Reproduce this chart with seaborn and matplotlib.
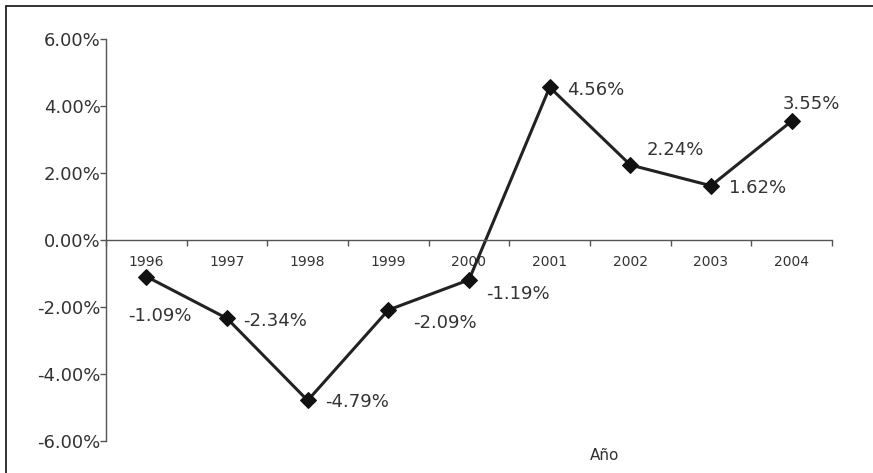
import pandas as pd
import numpy as np
import matplotlib
matplotlib.use("Agg")
import matplotlib.pyplot as plt
import seaborn as sns
from matplotlib.ticker import FuncFormatter

# data
years = ['1996', '1997', '1998', '1999', '2000', '2001', '2002', '2003', '2004']
values = [-1.09, -2.34, -4.79, -2.09, -1.19, 4.56, 2.24, 1.62, 3.55]
labels = ['-1.09%', '-2.34%', '-4.79%', '-2.09%', '-1.19%', '4.56%', '2.24%', '1.62%', '3.55%']

data = pd.DataFrame({'pos': np.arange(len(years)), 'value': values})

sns.set_style('white')
plt.rcParams['font.family'] = ['DejaVu Sans']

fig = plt.figure(figsize=(8.73, 4.73), dpi=100)
ax = fig.add_axes([106/873, 1 - 441/473, (832 - 106)/873, (441 - 39)/473])

sns.lineplot(data=data, x='pos', y='value', ax=ax, color='#222222', linewidth=2.2,
             marker='D', markersize=8, markerfacecolor='#111111', markeredgecolor='#111111')

ax.set_xlim(-0.5, len(years) - 0.5)
ax.set_ylim(-6, 6)
ax.set_yticks([-6, -4, -2, 0, 2, 4, 6])
ax.yaxis.set_major_formatter(FuncFormatter(lambda v, p: f'{v:.2f}%'))

# category axis: ticks between categories, names at centres
ax.set_xticks(np.arange(len(years) + 1) - 0.5)
ax.set_xticklabels([])
ax.set_xticks(np.arange(len(years)), minor=True)
ax.set_xticklabels(years, minor=True)
ax.spines['bottom'].set_position(('data', 0))
ax.spines['top'].set_visible(False)
ax.spines['right'].set_visible(False)
for s in ['left', 'bottom']:
    ax.spines[s].set_color('#555555')
    ax.spines[s].set_linewidth(1)

ax.tick_params(axis='y', which='major', direction='out', length=4, width=1, color='#555555',
               labelsize=13, labelcolor='#333333', pad=0, left=True)
ax.tick_params(axis='x', which='major', direction='out', length=4, width=1, color='#555555', bottom=True)
ax.tick_params(axis='x', which='minor', length=0, labelsize=10, labelcolor='#333333', pad=11)

ax.set_xlabel('Año', fontsize=11, color='#333333')
ax.xaxis.set_label_coords((605 - 106)/(832 - 106), 1 - (448 - 39)/(441 - 39))
ax.set_ylabel('')

# data labels, offsets in pixels
offsets = [(14, -39, 'center'), (16, -3, 'left'), (17, -2, 'left'), (25, -13, 'left'),
           (17, -14, 'left'), (17, -3, 'left'), (16, 15, 'left'), (18, -2, 'left'), (20, 17, 'center')]
for i, (v, t) in enumerate(zip(values, labels)):
    dx, dy, ha = offsets[i]
    ax.annotate(t, xy=(i, v), xytext=(dx, dy), textcoords='offset pixels',
                ha=ha, va='center', fontsize=13, color='#333333')

# outer frame (only top and left edges show)
fig.patches.append(plt.Rectangle((6/873, -0.1), 1.2, 1 - 6/473 + 0.1, transform=fig.transFigure,
                                 fill=False, edgecolor='#222222', linewidth=1.3))

fig.savefig('out.png', dpi=100)
